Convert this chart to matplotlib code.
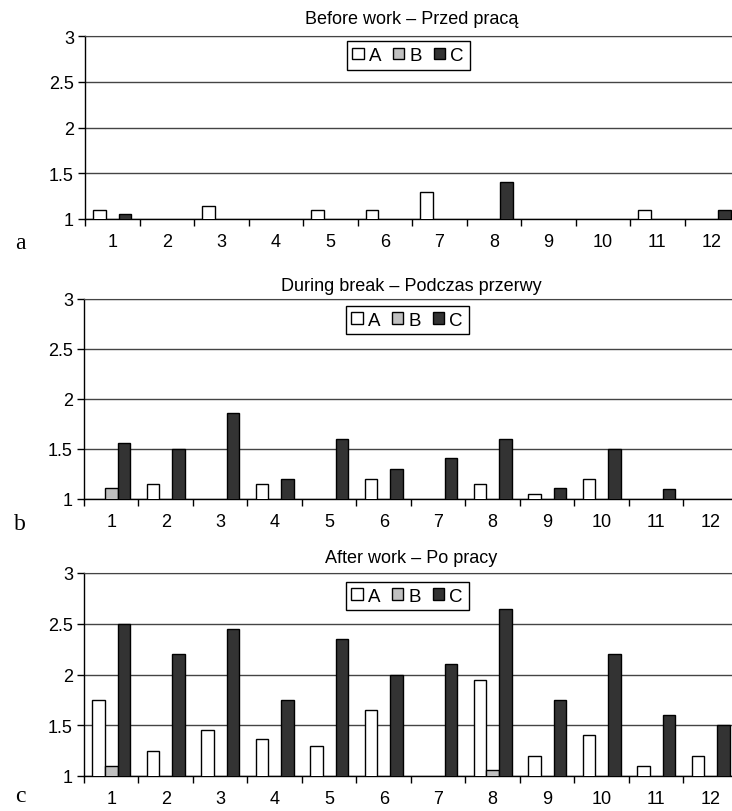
import matplotlib
matplotlib.use('Agg')
import numpy as np
import matplotlib.pyplot as plt

plt.rcParams['font.family'] = ['Liberation Sans', 'DejaVu Sans']

nan = np.nan
categories = [str(i) for i in range(1, 13)]
series_names = ['A', 'B', 'C']
series_colors = ['#ffffff', '#c0c0c0', '#333333']

titles = ['Before work \u2013 Przed pracą',
          'During break \u2013 Podczas przerwy',
          'After work \u2013 Po pracy']
panel_letters = ['a', 'b', 'c']

# values per panel, series A, B, C (nan = no bar)
before_a = [1.10, nan, 1.14, nan, 1.10, 1.10, 1.30, nan, nan, nan, 1.10, nan]
before_b = [nan] * 12
before_c = [1.05, nan, nan, nan, nan, nan, nan, 1.40, nan, nan, nan, 1.10]

break_a = [nan, 1.15, nan, 1.15, nan, 1.20, nan, 1.15, 1.05, 1.20, nan, nan]
break_b = [1.11, nan, nan, nan, nan, nan, nan, nan, nan, nan, nan, nan]
break_c = [1.56, 1.50, 1.86, 1.20, 1.60, 1.30, 1.41, 1.60, 1.11, 1.50, 1.10, nan]

after_a = [1.75, 1.25, 1.45, 1.36, 1.30, 1.65, nan, 1.95, 1.20, 1.40, 1.10, 1.20]
after_b = [1.10, nan, nan, nan, nan, nan, nan, 1.06, nan, nan, nan, nan]
after_c = [2.50, 2.20, 2.45, 1.75, 2.35, 2.00, 2.10, 2.65, 1.75, 2.20, 1.60, 1.50]

panels = [(before_a, before_b, before_c),
          (break_a, break_b, break_c),
          (after_a, after_b, after_c)]

W, H = 732, 812
fig = plt.figure(figsize=(W / 100, H / 100), dpi=100)

# pixel boxes: left, top, bottom
boxes = [(85, 37, 220), (84, 300, 500), (84, 574, 777)]
title_pads = [9, 6.5, 8]
legend_y = [0.97, 0.965, 0.956]
letter_y = [244, 525, 797]
axes_w = 654

x = np.arange(1, 13)
w = 0.232

for k, (vals, (left, top, bottom)) in enumerate(zip(panels, boxes)):
    ax = fig.add_axes([left / W, 1 - bottom / H, axes_w / W, (bottom - top) / H])
    for j, (v, name, col) in enumerate(zip(vals, series_names, series_colors)):
        ax.bar(x + (j - 1) * w, v, w, color=col, edgecolor='black',
               linewidth=1.0, label=name, zorder=3)
    ax.set_ylim(1, 3)
    ax.set_xlim(0.5, 12.5)
    ax.set_yticks([1, 1.5, 2, 2.5, 3])
    ax.set_yticklabels(['1', '1.5', '2', '2.5', '3'])
    ax.yaxis.grid(True, color='#444444', linewidth=1.0, zorder=0)
    ax.set_axisbelow(True)

    ax.set_xticks(np.arange(0.5, 13, 1))
    ax.set_xticklabels([])
    ax.set_xticks(x, minor=True)
    ax.set_xticklabels(categories, minor=True)
    ax.tick_params(axis='x', which='major', length=5, width=1, direction='out')
    ax.tick_params(axis='x', which='minor', length=0, pad=10, labelsize=13)
    ax.tick_params(axis='y', length=5, width=1, labelsize=13, pad=3)

    ax.spines['right'].set_visible(False)
    ax.spines['top'].set_color('#444444')
    ax.spines['left'].set_linewidth(1.0)
    ax.spines['bottom'].set_linewidth(1.0)

    ax.set_title(titles[k], fontsize=13, pad=title_pads[k])

    leg = ax.legend(loc='upper center', bbox_to_anchor=(0.494, legend_y[k]),
                    ncol=3, fontsize=13.5, frameon=True, fancybox=False,
                    edgecolor='black', framealpha=1, borderaxespad=0,
                    handlelength=0.6, handleheight=0.6, handletextpad=0.3,
                    columnspacing=0.6, borderpad=0.3)
    leg.get_frame().set_linewidth(1.0)

    fig.text(20 / W, 1 - letter_y[k] / H, panel_letters[k], ha='center', va='center',
             fontsize=17, family='Liberation Serif')

fig.savefig('out.png', dpi=100)
